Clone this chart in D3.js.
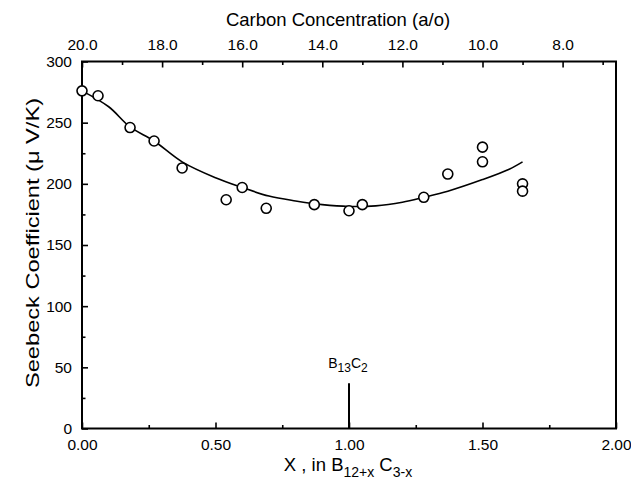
<!DOCTYPE html>
<html><head><meta charset="utf-8">
<script src="https://cdn.jsdelivr.net/npm/d3@7"></script>
<style>
body{margin:0;background:#fff;}
text{font-family:"Liberation Sans",Arial,Helvetica,sans-serif;fill:#000;}
</style></head>
<body><svg id="c" width="631" height="480"></svg>
<script>
// Measured data points: X in B(12+x)C(3-x), Seebeck coefficient (uV/K)
const pointX = [0.00, 0.06, 0.18, 0.27, 0.375, 0.54, 0.60, 0.69, 0.87, 1.00, 1.05, 1.28, 1.37, 1.50, 1.50, 1.65, 1.65];
const pointY = [276, 272, 246, 235, 213, 187, 197, 180, 183, 178, 183, 189, 208, 230, 218, 200, 194];
// Fitted curve
const fitX = [0.00, 0.10, 0.18, 0.27, 0.375, 0.50, 0.60, 0.70, 0.80, 0.90, 1.00, 1.10, 1.20, 1.28, 1.37, 1.50, 1.60, 1.65];
const fitY = [276, 263, 246.5, 235, 218, 205, 197, 190, 186, 183, 181.5, 182, 185, 189, 194, 203.5, 212, 218];
// Axis ticks
const bottomTicks = [0, 0.5, 1.0, 1.5, 2.0];
const bottomMinor = [0.25, 0.75, 1.25, 1.75];
const leftTicks = [0, 50, 100, 150, 200, 250, 300];
const leftMinor = [25, 75, 125, 175, 225, 275];
const topTicks = [20, 18, 16, 14, 12, 10, 8];
const topMinor = [19, 17, 15, 13, 11, 9, 7];
const markerX = [1.0];
const markerY = [0, 37];

const svg = d3.select("#c");
const L = 82, R = 616, T = 61.5, B = 428.5;
const x = d3.scaleLinear().domain([0, 2]).range([L, R]);
const y = d3.scaleLinear().domain([0, 300]).range([B, T]);
const xTop = d3.scaleLinear().domain([20, 20 - 2 * 100 / 15]).range([L, R]);

// frame
svg.append("rect").attr("x", L).attr("y", T).attr("width", R - L).attr("height", B - T)
  .attr("fill", "none").attr("stroke", "#000").attr("stroke-width", 2);

// bottom axis
const gB = svg.append("g").attr("transform", `translate(0,${B})`);
gB.call(d3.axisBottom(x).tickValues(bottomTicks).tickFormat(d3.format(".2f")).tickSize(-6).tickPadding(10));
gB.append("g").call(d3.axisBottom(x).tickValues(bottomMinor).tickFormat("").tickSize(-3.5));
// left axis
const gL = svg.append("g").attr("transform", `translate(${L},0)`);
gL.call(d3.axisLeft(y).tickValues(leftTicks).tickFormat(d3.format("d")).tickSize(-6).tickPadding(10));
gL.append("g").call(d3.axisLeft(y).tickValues(leftMinor).tickFormat("").tickSize(-3.5));
// top axis
const gT = svg.append("g").attr("transform", `translate(0,${T})`);
gT.call(d3.axisTop(xTop).tickValues(topTicks).tickFormat(d3.format(".1f")).tickSize(-6).tickPadding(12));
gT.append("g").call(d3.axisTop(xTop).tickValues(topMinor).tickFormat("").tickSize(-3.5));

svg.selectAll(".domain").remove();
svg.selectAll(".tick line").attr("stroke", "#000").attr("stroke-width", 1.6);
svg.selectAll(".tick text").attr("font-size", 15.5).attr("font-family", "Liberation Sans, Arial, sans-serif").attr("fill", "#000");

// fitted line
const fit = fitX.map((v, i) => [v, fitY[i]]);
svg.append("path").datum(fit)
  .attr("d", d3.line().x(d => x(d[0])).y(d => y(d[1])).curve(d3.curveCatmullRom.alpha(0.5)))
  .attr("fill", "none").attr("stroke", "#000").attr("stroke-width", 1.6);

// points
const pts = pointX.map((v, i) => [v, pointY[i]]);
svg.selectAll("circle.p").data(pts).enter().append("circle")
  .attr("cx", d => x(d[0])).attr("cy", d => y(d[1])).attr("r", 5)
  .attr("fill", "#fff").attr("stroke", "#000").attr("stroke-width", 1.6);

// B13C2 marker
svg.append("line").attr("x1", x(markerX[0])).attr("x2", x(markerX[0]))
  .attr("y1", y(markerY[0])).attr("y2", y(markerY[1])).attr("stroke", "#000").attr("stroke-width", 2);
const lab = svg.append("text").attr("x", x(markerX[0]) - 1).attr("y", 368).attr("text-anchor", "middle").attr("font-size", 14);
lab.append("tspan").text("B");
lab.append("tspan").attr("font-size", 12).attr("dy", 4).text("13");
lab.append("tspan").attr("dy", -4).text("C");
lab.append("tspan").attr("font-size", 12).attr("dy", 4).text("2");

// titles
svg.append("text").attr("x", 338).attr("y", 26).attr("text-anchor", "middle").attr("font-size", 18.5)
  .text("Carbon Concentration (a/o)");
const xt = svg.append("text").attr("x", 348).attr("y", 471).attr("text-anchor", "middle").attr("font-size", 18.5);
xt.append("tspan").text("X ,  in B");
xt.append("tspan").attr("font-size", 14).attr("dy", 6).text("12+x");
xt.append("tspan").attr("dy", -6).text(" C");
xt.append("tspan").attr("font-size", 14).attr("dy", 6).text("3-x");
svg.append("text").attr("transform", "translate(39,243) rotate(-90)").attr("text-anchor", "middle")
  .attr("font-size", 19).attr("textLength", 290).attr("lengthAdjust", "spacingAndGlyphs")
  .text("Seebeck Coefficient (\u03bc V/K)");
</script></body></html>
